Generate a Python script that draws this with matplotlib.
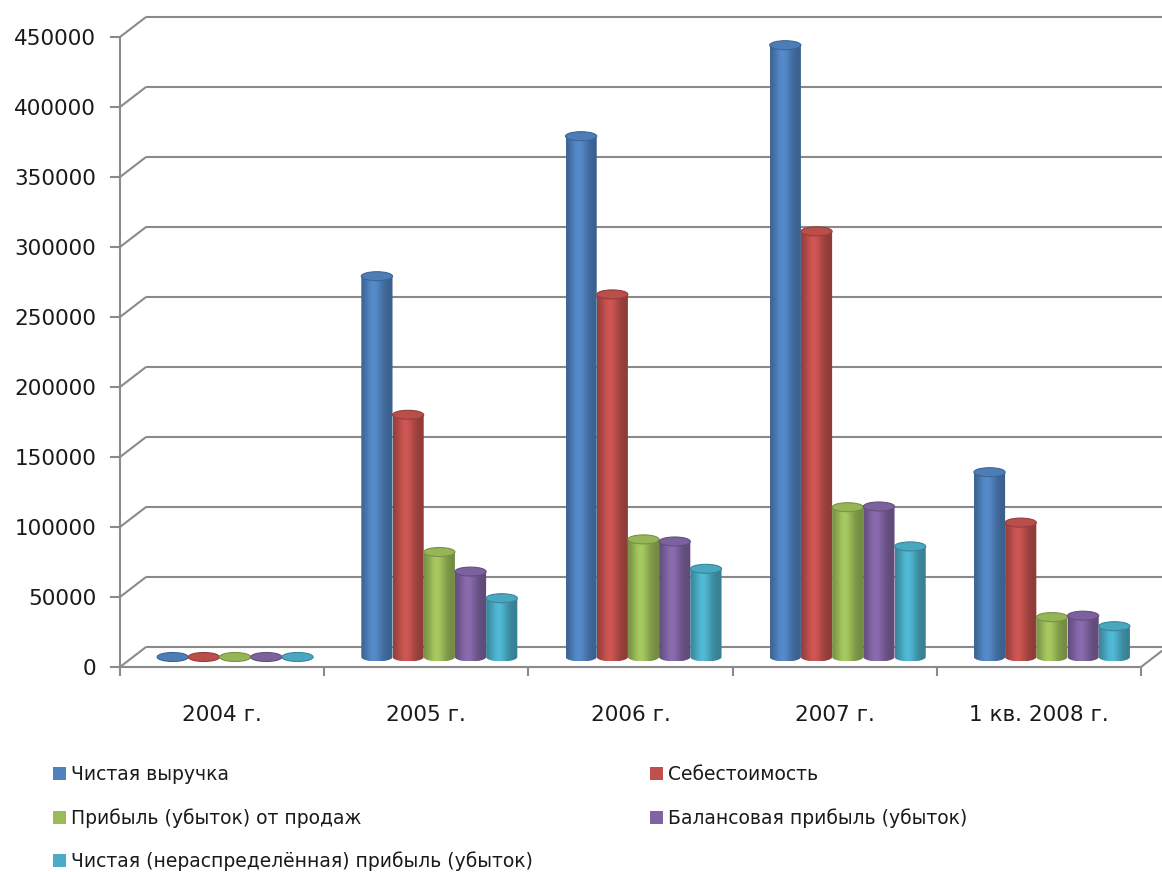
import numpy as np
import matplotlib
matplotlib.use("Agg")
import matplotlib.pyplot as plt
from matplotlib.patches import Ellipse, Patch, PathPatch
from matplotlib.path import Path
from matplotlib.colors import to_rgb

# ---- data -------------------------------------------------------------
periods = ["2004 г.", "2005 г.", "2006 г.", "2007 г.", "1 кв. 2008 г."]
series_names = [
    "Чистая выручка",
    "Себестоимость",
    "Прибыль (убыток) от продаж",
    "Балансовая прибыль (убыток)",
    "Чистая (нераспределённая) прибыль (убыток)",
]
net_revenue = [0, 272000, 372000, 437000, 132000]
cost_of_sales = [0, 173000, 259000, 304000, 96000]
sales_profit = [0, 75000, 84000, 107000, 28500]
balance_profit = [0, 61000, 82500, 107500, 29500]
net_profit = [0, 42000, 63000, 79000, 22000]
series_values = [net_revenue, cost_of_sales, sales_profit, balance_profit, net_profit]
series_colors = ["#4F81BD", "#C0504D", "#9BBB59", "#8064A2", "#4BACC6"]
y_ticks = list(range(0, 450001, 50000))

# ---- figure / axes ----------------------------------------------------
W, H = 1162, 872
fig = plt.figure(figsize=(W / 100, H / 100), dpi=100)
fig.patch.set_facecolor("white")
ax = fig.add_axes([120 / W, 205 / H, (1141 - 120) / W, 630 / H])
n_cat = len(periods)
ax.set_xlim(0, n_cat)
ax.set_ylim(0, 450000)

grid_color = "#8a8a8a"
grid_lw = 1.5
text_color = "#1a1a1a"

# perspective offset of the back wall (category units, value units)
DX = 26 / 204
DY = 20 / 70 * 50000

# walls: back horizontal gridlines and left-wall diagonals
for v in y_ticks:
    ax.plot([0, DX], [v, v + DY], color=grid_color, lw=grid_lw,
            clip_on=False, zorder=1, solid_capstyle="butt")
    ax.plot([DX, n_cat + DX], [v + DY, v + DY], color=grid_color,
            lw=grid_lw, clip_on=False, zorder=1, solid_capstyle="butt")
# right edge of the floor
ax.plot([n_cat, n_cat + DX], [0, DY], color=grid_color, lw=grid_lw,
        clip_on=False, zorder=1)

for side in ("top", "right"):
    ax.spines[side].set_visible(False)
for side in ("left", "bottom"):
    ax.spines[side].set_color(grid_color)
    ax.spines[side].set_linewidth(grid_lw)
    ax.spines[side].set_zorder(1)

ax.set_yticks(y_ticks)
ax.set_yticklabels([str(v) for v in y_ticks])
ax.tick_params(axis="y", length=7.2, width=grid_lw, color=grid_color,
               pad=10, labelsize=15.5, labelcolor=text_color)
ax.set_xticks([i + 0.5 for i in range(n_cat)])
ax.set_xticklabels(periods)
ax.set_xticks(range(n_cat + 1), minor=True)
ax.tick_params(axis="x", which="major", length=0, pad=27.5,
               labelsize=15.5, labelcolor=text_color)
ax.tick_params(axis="x", which="minor", length=6.5, width=grid_lw,
               color=grid_color)

# ---- cylinders --------------------------------------------------------
n_ser = len(series_values)
group_width = 0.764
bar_w = group_width / n_ser
ell_h = 9 / 70 * 50000          # vertical size of the elliptical caps
base = DY / 2                   # cylinders stand mid-depth on the floor

t = np.linspace(0, 1, 96)
shade = 0.74 + 0.34 * np.exp(-((t - 0.40) / 0.28) ** 2)


def cylinder(x_left, value, color):
    rgb = np.array(to_rgb(color))
    cx = x_left + bar_w / 2
    top = base + value
    # body: straight sides + rounded bottom
    theta = np.linspace(np.pi, 2 * np.pi, 60)
    bx = cx + bar_w / 2 * np.cos(theta)
    by = base + ell_h / 2 * np.sin(theta)
    verts = ([(x_left, top), (x_left, base)] + list(zip(bx, by))
             + [(x_left + bar_w, top), (x_left, top)])
    codes = [Path.MOVETO] + [Path.LINETO] * (len(verts) - 2) + [Path.CLOSEPOLY]
    clip = PathPatch(Path(verts, codes), transform=ax.transData,
                     facecolor="none", edgecolor="none")
    img = np.clip(rgb[None, None, :] * shade[None, :, None], 0, 1)
    im = ax.imshow(img, extent=[x_left, x_left + bar_w, base - ell_h / 2, top],
                   aspect="auto", interpolation="bilinear", zorder=3,
                   origin="lower")
    im.set_clip_path(clip)
    # top cap
    cap = Ellipse((cx, top), bar_w, ell_h,
                  facecolor=np.clip(rgb * 0.97, 0, 1),
                  edgecolor=np.clip(rgb * 0.78, 0, 1), lw=0.8, zorder=4)
    ax.add_patch(cap)


for s, (vals, col) in enumerate(zip(series_values, series_colors)):
    for i, v in enumerate(vals):
        x_left = i + (1 - group_width) / 2 + s * bar_w + DX / 2
        cylinder(x_left, v, col)

ax.set_xlim(0, n_cat)
ax.set_ylim(0, 450000)

# ---- legend (two columns, row-major order) ----------------------------
handles = [Patch(facecolor=c, edgecolor="none") for c in series_colors]
leg_kw = dict(frameon=False, fontsize=13.5, handlelength=0.7,
              handleheight=0.7, handletextpad=0.25, labelspacing=1.28,
              borderpad=0, borderaxespad=0, loc="upper left",
              labelcolor=text_color)
left_idx = [0, 2, 4]
right_idx = [1, 3]
fig.legend([handles[k] for k in left_idx], [series_names[k] for k in left_idx],
           bbox_to_anchor=(53 / W, 1 - 765 / H), **leg_kw)
fig.legend([handles[k] for k in right_idx], [series_names[k] for k in right_idx],
           bbox_to_anchor=(650 / W, 1 - 765 / H), **leg_kw)

fig.savefig("out.png", dpi=100, facecolor="white")
